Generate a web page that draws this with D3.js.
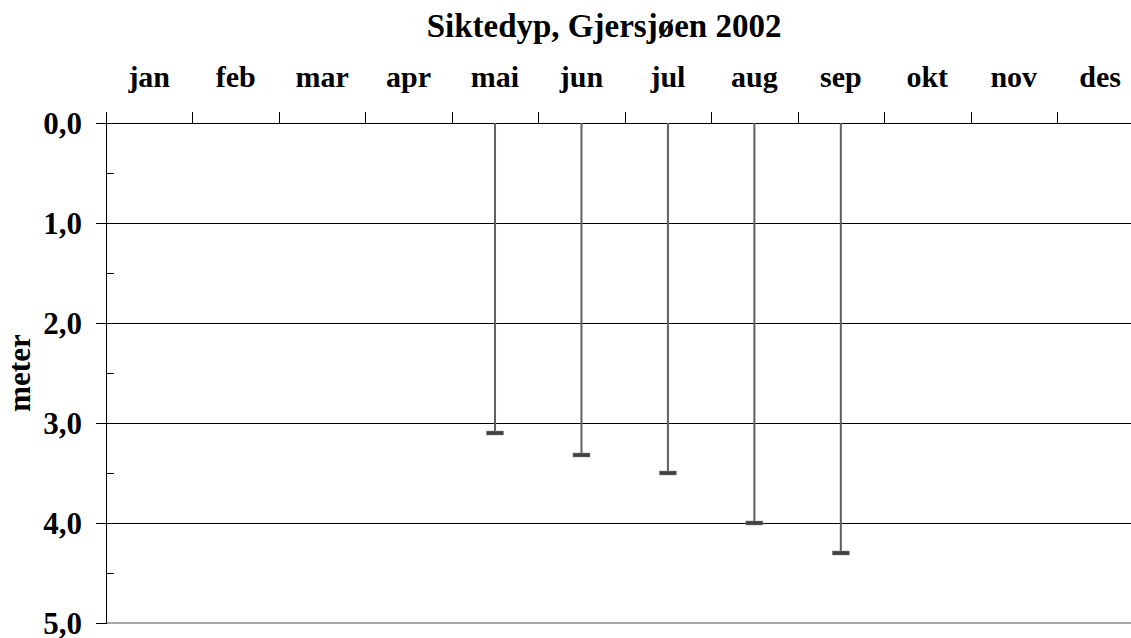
<!DOCTYPE html>
<html>
<head>
<meta charset="utf-8">
<script src="https://cdn.jsdelivr.net/npm/d3@7"></script>
<style>
  body { margin: 0; background: #fff; }
  svg text { font-family: "Liberation Serif", "Times New Roman", serif; font-weight: bold; fill: #000; }
  .crisp line, .crisp path { shape-rendering: crispEdges; }
</style>
</head>
<body>
<div id="chart"></div>
<script>
// data
var months = ["jan", "feb", "mar", "apr", "mai", "jun", "jul", "aug", "sep", "okt", "nov", "des"];
var sampleMonths = ["mai", "jun", "jul", "aug", "sep"];
var depths = [3.1, 3.32, 3.5, 4.0, 4.3];
var yTicks = [0, 1, 2, 3, 4, 5];
var yMinor = [0.5, 1.5, 2.5, 3.5, 4.5];

var width = 1131, height = 638;
var plotLeft = 106, plotTop = 123, plotBottom = 623;
var monthW = 86.45;

var svg = d3.select("#chart").append("svg")
    .attr("width", width)
    .attr("height", height);

var x = d3.scaleBand()
    .domain(months)
    .range([plotLeft, plotLeft + monthW * months.length])
    .padding(0);

var xEdge = d3.scaleLinear()
    .domain([0, months.length])
    .range([plotLeft, plotLeft + monthW * months.length]);

var y = d3.scaleLinear()
    .domain([0, 5])
    .range([plotTop, plotBottom]);

/* title */
svg.append("text")
    .attr("x", 604)
    .attr("y", 37)
    .attr("text-anchor", "middle")
    .style("font-size", "33px")
    .text("Siktedyp, Gjersjøen 2002");

/* horizontal grid lines */
svg.append("g")
    .attr("class", "crisp")
    .selectAll("line")
    .data([1, 2, 3, 4])
    .enter().append("line")
    .attr("x1", plotLeft)
    .attr("x2", width)
    .attr("y1", d => y(d) + 0.5)
    .attr("y2", d => y(d) + 0.5)
    .attr("stroke", "#000")
    .attr("stroke-width", 1);

// bottom line (lighter)
svg.append("line")
    .attr("x1", plotLeft).attr("x2", width)
    .attr("y1", y(5)).attr("y2", y(5))
    .attr("stroke", "#a8a8a8")
    .attr("stroke-width", 2);

/* top axis: month boundaries */
var xAxis = d3.axisTop(xEdge)
    .tickValues(d3.range(0, months.length + 1))
    .tickSize(11)
    .tickSizeOuter(0)
    .tickFormat("");

svg.append("g")
    .attr("class", "x axis crisp")
    .attr("transform", `translate(0, ${plotTop})`)
    .call(xAxis)
    .call(g => g.select(".domain").attr("stroke-width", 1.5));

svg.append("g")
    .selectAll("text")
    .data(months)
    .enter().append("text")
    .attr("x", d => x(d) + x.bandwidth() / 2)
    .attr("y", 87)
    .attr("text-anchor", "middle")
    .style("font-size", "30px")
    .text(d => d);

/* y axis */
var yAxis = d3.axisLeft(y)
    .tickValues(yTicks)
    .tickSize(10)
    .tickSizeOuter(0)
    .tickPadding(14)
    .tickFormat(d => d3.format(".1f")(d).replace(".", ","));

svg.append("g")
    .attr("class", "y axis crisp")
    .attr("transform", `translate(${plotLeft}, 0)`)
    .call(yAxis)
    .call(g => g.selectAll("text").style("font-size", "31px").attr("dy", "0.33em"));

svg.append("g")
    .attr("class", "crisp")
    .attr("transform", `translate(${plotLeft}, 0)`)
    .call(d3.axisRight(y).tickValues(yMinor).tickSize(8).tickFormat(""))
    .call(g => g.select(".domain").remove());

svg.append("line")
    .attr("x1", plotLeft + 0.5).attr("x2", plotLeft + 0.5)
    .attr("y1", plotTop - 11).attr("y2", plotBottom)
    .attr("stroke", "#000")
    .style("shape-rendering", "crispEdges");

svg.append("text")
    .attr("transform", `translate(30, ${(plotTop + plotBottom) / 2}) rotate(-90)`)
    .attr("text-anchor", "middle")
    .style("font-size", "31px")
    .text("meter");

/* drop lines and markers */
var pts = sampleMonths.map((m, i) => ({ month: m, depth: depths[i] }));

svg.append("g")
    .selectAll("line")
    .data(pts)
    .enter().append("line")
    .attr("x1", d => x(d.month) + x.bandwidth() / 2)
    .attr("x2", d => x(d.month) + x.bandwidth() / 2)
    .attr("y1", y(0))
    .attr("y2", d => y(d.depth))
    .attr("stroke", "#606060")
    .attr("stroke-width", 2);

svg.append("g")
    .selectAll("rect")
    .data(pts)
    .enter().append("rect")
    .attr("x", d => x(d.month) + x.bandwidth() / 2 - 8.5)
    .attr("y", d => y(d.depth) - 2)
    .attr("width", 17)
    .attr("height", 4)
    .attr("fill", "#404040")
    .attr("stroke", "#8a8a8a")
    .attr("stroke-width", 0.5);
</script>
</body>
</html>
